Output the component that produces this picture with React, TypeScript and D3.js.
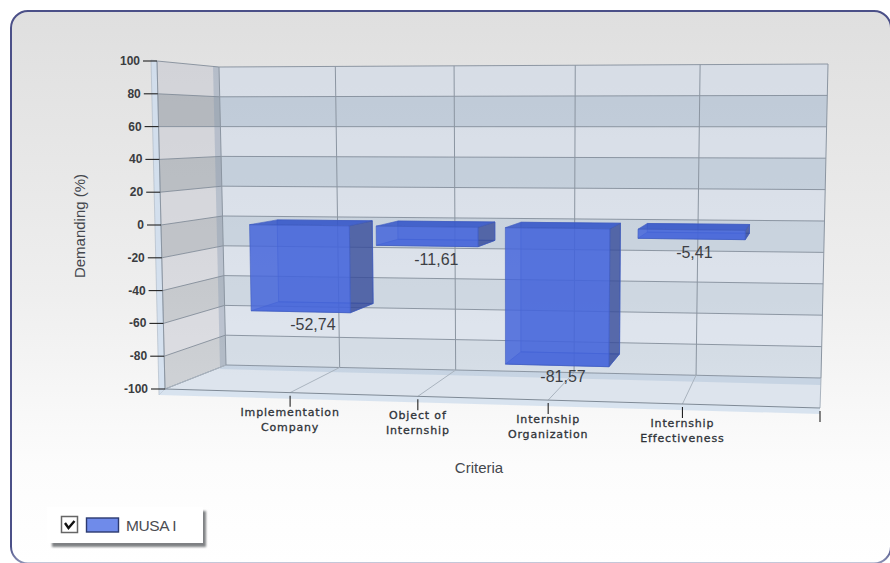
import React from "react";
import * as d3 from "d3";

// Chart content
const categories = [
  ["Implementation", "Company"],
  ["Object of", "Internship"],
  ["Internship", "Organization"],
  ["Internship", "Effectiveness"],
];
const seriesName = "MUSA I";
const demanding = [-52.74, -11.61, -81.57, -5.41];
const valueLabels = ["-52,74", "-11,61", "-81,57", "-5,41"];
const yTicks = [100, 80, 60, 40, 20, 0, -20, -40, -60, -80, -100];
const xAxisTitle = "Criteria";
const yAxisTitle = "Demanding (%)";

const W = 890;
const H = 563;

type P = [number, number];

// Corners of the perspective box: front/back, top/bottom, left/right
const box = {
  ftl: [157, 61] as P,
  fbl: [165, 389] as P,
  ftr: [827, 58] as P,
  fbr: [820, 408] as P,
  btl: [219, 67] as P,
  bbl: [226, 365] as P,
  btr: [828, 64] as P,
  bbr: [821, 378] as P,
};

// Category slots shrink slightly towards the far left of the box
const uScale = d3.scaleLinear().domain([0, 1, 2, 3, 4, 5]).range([0, 0.191, 0.386, 0.585, 0.79, 1]);
const vScale = d3.scaleLinear().domain([100, -100]).range([0, 1]);

const mix = (a: P, b: P, t: number): P => [a[0] + (b[0] - a[0]) * t, a[1] + (b[1] - a[1]) * t];

// Maps (slot, value, depth) to the page; depth 0 is the front plane, 1 the back wall
function project(slot: number, value: number, depth: number): P {
  const u = uScale(slot);
  const v = vScale(value);
  const front = mix(mix(box.ftl, box.ftr, u), mix(box.fbl, box.fbr, u), v);
  const back = mix(mix(box.btl, box.btr, u), mix(box.bbl, box.bbr, u), v);
  return mix(front, back, depth);
}

const poly = (pts: P[]) => d3.line()(pts) + "Z";
const seg = (a: P, b: P) => d3.line()([a, b]) as string;

const bands = d3.pairs(yTicks);
const slots = [0, 1, 2, 3, 4, 5];

const BAR_WIDTH = 0.79;
const BAR_SHIFT = 0.035;
const DEPTH_NEAR = 0.14;
const DEPTH_FAR = 0.65;

// The darker bands fade out towards the floor
const bandFade = d3.scaleLinear().domain([0, 9]).range([1, 0.68]);

const gridStroke = "#7f8a96";
const font = "'Liberation Sans', Arial, sans-serif";
const tickFont = "'DejaVu Sans', Verdana, sans-serif";

function Bar({ index }: { index: number }) {
  const value = demanding[index];
  const c = index + 1 + BAR_SHIFT;
  const l = c - BAR_WIDTH / 2;
  const r = c + BAR_WIDTH / 2;
  const corner = {
    ftl: project(l, 0, DEPTH_NEAR),
    ftr: project(r, 0, DEPTH_NEAR),
    fbl: project(l, value, DEPTH_NEAR),
    fbr: project(r, value, DEPTH_NEAR),
    btl: project(l, 0, DEPTH_FAR),
    btr: project(r, 0, DEPTH_FAR),
    bbl: project(l, value, DEPTH_FAR),
    bbr: project(r, value, DEPTH_FAR),
  };
  const faces: { pts: P[]; fill: string }[] = [
    { pts: [corner.btl, corner.btr, corner.bbr, corner.bbl], fill: "rgba(70,105,225,0.3)" },
    { pts: [corner.fbl, corner.fbr, corner.bbr, corner.bbl], fill: "rgba(60,92,215,0.45)" },
    { pts: [corner.ftl, corner.ftr, corner.btr, corner.btl], fill: "rgba(52,85,200,0.85)" },
    { pts: [corner.ftr, corner.btr, corner.bbr, corner.fbr], fill: "rgba(52,72,145,0.72)" },
    { pts: [corner.ftl, corner.ftr, corner.fbr, corner.fbl], fill: "rgba(68,100,218,0.84)" },
  ];
  const mid = project(c, value, (DEPTH_NEAR + DEPTH_FAR) / 2);
  return (
    <g>
      {faces.map((f, i) => (
        <path key={i} d={poly(f.pts)} fill={f.fill} stroke="#3f5cc0" strokeOpacity={0.75} strokeWidth={0.8} />
      ))}
      <text x={mid[0]} y={mid[1] + 22.5} textAnchor="middle" fontFamily={font} fontSize={16} fill="#3d3f44">
        {valueLabels[index]}
      </text>
    </g>
  );
}

export default function App() {
  const floorBack = [project(0, -100, 1), project(5, -100, 1)];
  const floorFront = [project(0, -100, 0), project(5, -100, 0)];
  return (
    <svg
      width={W}
      height={H}
      viewBox={`0 0 ${W} ${H}`}
      style={{ position: "fixed", left: 0, top: 0, display: "block", background: "#ffffff" }}
    >
      <defs>
        <linearGradient id="panelFill" x1="0" y1="0" x2="0" y2="1">
          <stop offset="0" stopColor="#dfdfdf" />
          <stop offset="0.5" stopColor="#eeeeee" />
          <stop offset="0.82" stopColor="#fcfcfc" />
          <stop offset="1" stopColor="#ffffff" />
        </linearGradient>
        <linearGradient id="panelStroke" x1="0" y1="0" x2="0" y2="1">
          <stop offset="0" stopColor="#4b5088" />
          <stop offset="0.97" stopColor="#4b5088" />
          <stop offset="1" stopColor="#8d93b5" />
        </linearGradient>
        <filter id="legendShadow" x="-10%" y="-20%" width="125%" height="150%">
          <feGaussianBlur stdDeviation="1" />
        </filter>
      </defs>

      {/* Outer panel, its right and bottom edges run off the page */}
      <rect
        x={11}
        y={11}
        width={880}
        height={552.5}
        rx={17}
        fill="url(#panelFill)"
        stroke="url(#panelStroke)"
        strokeWidth={2}
      />

      {/* Left wall thickness strips */}
      <path
        d={poly([[151, 60], [157, 61], [165, 389], [159, 395]])}
        fill="rgba(205,220,238,0.8)"
        stroke="#aab5c2"
        strokeWidth={0.6}
      />

      {/* Back wall bands */}
      {bands.map(([hi, lo], i) => (
        <path
          key={`back${hi}`}
          d={poly([project(0, hi, 1), project(5, hi, 1), project(5, lo, 1), project(0, lo, 1)])}
          fill={i % 2 === 0 ? "rgba(205,216,234,0.55)" : "rgba(160,182,206,0.55)"}
          fillOpacity={i % 2 === 0 ? 1 : bandFade(i)}
        />
      ))}

      {/* Left wall bands */}
      {bands.map(([hi, lo], i) => (
        <path
          key={`left${hi}`}
          d={poly([project(0, hi, 0), project(0, hi, 1), project(0, lo, 1), project(0, lo, 0)])}
          fill={i % 2 === 0 ? "rgba(190,194,204,0.45)" : "rgba(110,120,134,0.42)"}
          fillOpacity={i % 2 === 0 ? 1 : bandFade(i)}
        />
      ))}

      {/* Seam between left wall and back wall */}
      <path d={poly([[213, 66], [219, 67], [226, 365], [220, 368]])} fill="rgba(130,150,175,0.35)" />

      {/* Floor and its front lip */}
      <path d={poly([floorBack[0], floorBack[1], floorFront[1], floorFront[0]])} fill="rgba(212,222,234,0.75)" />
      <path d={poly([floorFront[0], floorFront[1], [820, 414], [159, 395]])} fill="rgba(205,220,236,0.75)" />
      <path d={poly([floorBack[0], floorBack[1], [821, 385], [219, 369]])} fill="rgba(180,198,218,0.55)" />

      {/* Horizontal grid lines around left wall and back wall */}
      {yTicks.map((t) => (
        <path
          key={`grid${t}`}
          d={d3.line()([project(0, t, 0), project(0, t, 1), project(5, t, 1)]) as string}
          fill="none"
          stroke={gridStroke}
          strokeWidth={1}
          strokeOpacity={0.85}
        />
      ))}

      {/* Vertical grid lines with their floor continuation */}
      {slots.map((s) => (
        <g key={`slot${s}`}>
          <path d={seg(project(s, 100, 1), project(s, -100, 1))} stroke="#8b95a1" strokeWidth={1} fill="none" />
          <path d={seg(project(s, -100, 1), project(s, -100, 0))} stroke="#aab4bf" strokeWidth={1} fill="none" />
        </g>
      ))}
      <path d={seg(project(0, 100, 0), project(0, -100, 0))} stroke="#8b95a1" strokeWidth={1} fill="none" />
      <path d={seg(floorFront[0], floorFront[1])} stroke="#7f8a96" strokeWidth={1} fill="none" />

      {/* Bars */}
      {demanding.map((_, i) => (
        <Bar key={i} index={i} />
      ))}

      {/* Value axis ticks and labels */}
      {yTicks.map((t) => {
        const p = project(0, t, 0);
        return (
          <g key={`ytick${t}`}>
            <path d={seg([p[0] - 14, p[1]], p)} stroke="#222" strokeWidth={1.1} fill="none" />
            <text
              x={p[0] - 17}
              y={p[1] + 4}
              textAnchor="end"
              fontFamily={font}
              fontSize={12}
              fontWeight={700}
              fill="#3a3c40"
            >
              {t}
            </text>
          </g>
        );
      })}

      {/* Category ticks and labels */}
      {slots.slice(1).map((s) => {
        const p = project(s, -100, 0);
        const lines = categories[s - 1];
        return (
          <g key={`xtick${s}`}>
            <path d={seg([p[0], p[1] + 3], [p[0], p[1] + 14])} stroke="#222" strokeWidth={1.1} fill="none" />
            {lines &&
              lines.map((line, i) => (
                <text
                  key={line}
                  x={p[0]}
                  y={p[1] + 23 + i * 15}
                  textAnchor="middle"
                  fontFamily={tickFont}
                  fontSize={11}
                  letterSpacing={0.85}
                  stroke="#2f3338"
                  strokeWidth={0.3}
                  fill="#2f3338"
                >
                  {line}
                </text>
              ))}
          </g>
        );
      })}

      {/* Axis titles */}
      <text x={479} y={473} textAnchor="middle" fontFamily={font} fontSize={15} fill="#44474d">
        {xAxisTitle}
      </text>
      <text
        transform="translate(85,226) rotate(-90)"
        textAnchor="middle"
        fontFamily={font}
        fontSize={15}
        fill="#44474d"
      >
        {yAxisTitle}
      </text>

      {/* Legend */}
      <rect x={52} y={511} width={154} height={36} fill="#55585c" opacity={0.75} filter="url(#legendShadow)" />
      <rect x={47} y={507} width={156} height={36} fill="#ffffff" />
      <rect x={61.5} y={516.5} width={16} height={16} fill="#fff" stroke="#666" strokeWidth={1.5} />
      <path d="M65 523 L68.5 528 L74.5 521" fill="none" stroke="#111" strokeWidth={2.4} />
      <rect x={86.5} y={518} width={32} height={14} fill="#6f8bea" stroke="#2c3a70" strokeWidth={1.4} />
      <text x={126} y={531} fontFamily={font} fontSize={15.5} letterSpacing={-0.4} fill="#4a4c52">
        {seriesName}
      </text>
    </svg>
  );
}
